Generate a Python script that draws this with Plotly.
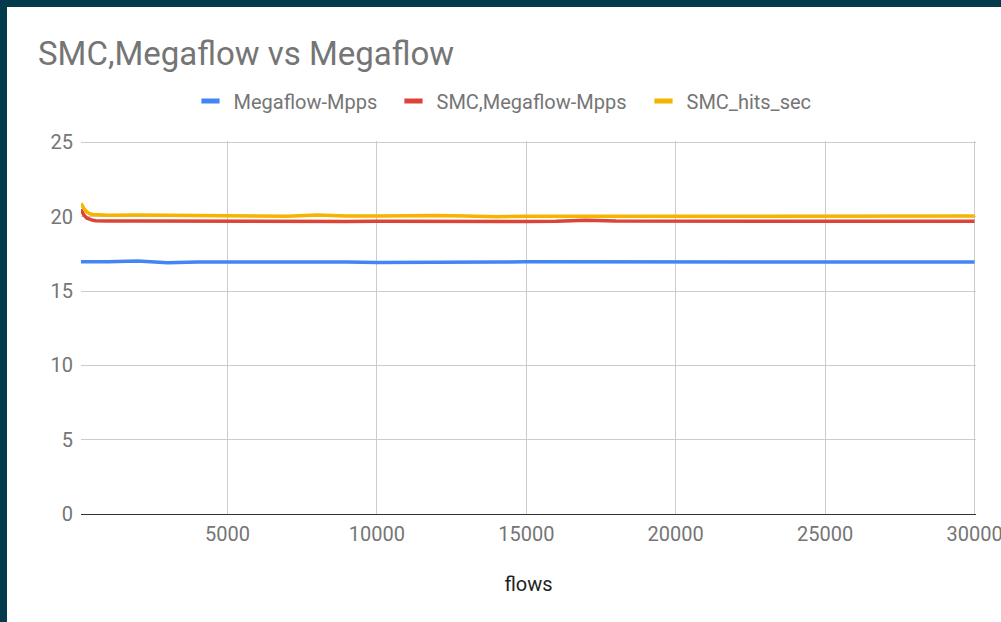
import plotly.graph_objects as go

flows = [100, 200, 300, 400, 500, 600, 700, 800, 900, 1000,
         2000, 3000, 4000, 5000, 6000, 7000, 8000, 9000, 10000,
         11000, 12000, 13000, 14000, 15000, 16000, 17000, 18000, 19000, 20000,
         21000, 22000, 23000, 24000, 25000, 26000, 27000, 28000, 29000, 30000]

megaflow_mpps = [16.97, 16.97, 16.96, 16.97, 16.97, 16.96, 16.96, 16.97, 16.98, 16.98,
                 17.03, 16.9, 16.95, 16.96, 16.96, 16.96, 16.96, 16.95, 16.93,
                 16.95, 16.96, 16.96, 16.96, 16.97, 16.96, 16.95, 16.95, 16.95, 16.95,
                 16.95, 16.95, 16.95, 16.95, 16.95, 16.95, 16.95, 16.95, 16.95, 16.95]

smc_megaflow_mpps = [20.5, 20.1, 19.9, 19.8, 19.76, 19.74, 19.73, 19.72, 19.72, 19.72,
                     19.71, 19.7, 19.7, 19.69, 19.69, 19.69, 19.69, 19.69, 19.7,
                     19.69, 19.69, 19.69, 19.69, 19.69, 19.7, 19.77, 19.71, 19.7, 19.7,
                     19.7, 19.7, 19.7, 19.7, 19.7, 19.7, 19.7, 19.7, 19.7, 19.7]

smc_hits_sec = [20.9, 20.55, 20.32, 20.2, 20.16, 20.14, 20.13, 20.12, 20.11, 20.1,
                20.12, 20.1, 20.05, 20.02, 20.05, 20.03, 20.12, 20.05, 20.05,
                20.08, 20.08, 20.05, 20.0, 20.03, 20.03, 20.08, 20.05, 20.06, 20.05,
                20.05, 20.05, 20.05, 20.05, 20.05, 20.05, 20.05, 20.05, 20.05, 20.05]

series_names = ["Megaflow-Mpps", "SMC,Megaflow-Mpps", "SMC_hits_sec"]
series_values = [megaflow_mpps, smc_megaflow_mpps, smc_hits_sec]
colors = ["#4285F4", "#DB4437", "#F4B400"]

x_ticks = [5000, 10000, 15000, 20000, 25000, 30000]
y_ticks = [0, 5, 10, 15, 20, 25]

FONT = "Roboto, Arial, sans-serif"
GREY = "#757575"

W, H = 1001, 622
L, R, T, B = 81, 25, 141, 108
pw = W - L - R
ph = H - T - B

def px_x(p):
    return (p - L) / pw

def px_y(p):
    return (H - B - p) / ph

legend_ids = ["legend", "legend2", "legend3"]
legend_left_px = [187.5, 390.5, 640.5]

fig = go.Figure()
for name, vals, c in zip(series_names, series_values, colors):
    fig.add_trace(go.Scatter(x=flows, y=vals, mode="lines", name=name,
                             line=dict(color=c, width=3.5), showlegend=False))
for name, c, lg in zip(series_names, colors, legend_ids):
    fig.add_trace(go.Scatter(x=[None], y=[None], mode="markers", name=name,
                             legend=lg,
                             marker=dict(symbol="line-ew", size=13,
                                         line=dict(color=c, width=5))))

fig.add_shape(type="rect", xref="paper", yref="paper", layer="below",
              x0=px_x(7), x1=px_x(W + 20), y0=px_y(H + 20), y1=px_y(7),
              fillcolor="white", line=dict(width=0))

legend_layout = {}
for lg, lx in zip(legend_ids, legend_left_px):
    legend_layout[lg] = dict(orientation="h", x=px_x(lx), xanchor="left", xref="paper",
                             y=px_y(101), yanchor="middle", yref="paper",
                             font=dict(family=FONT, size=20, color=GREY),
                             itemwidth=36, bgcolor="rgba(0,0,0,0)")

fig.update_layout(
    width=W, height=H,
    margin=dict(l=L, r=R, t=T, b=B, pad=0, autoexpand=False),
    paper_bgcolor="#033B4C",
    plot_bgcolor="white",
    font=dict(family=FONT, size=20, color=GREY),
    title=dict(text="SMC,Megaflow vs Megaflow", x=38 / W, xref="container",
               xanchor="left", y=1 - 53 / H, yref="container", yanchor="middle",
               font=dict(family=FONT, size=33, color=GREY)),
    xaxis=dict(range=[100, 30050], tickvals=x_ticks,
               ticktext=[str(v) for v in x_ticks], automargin=False,
               showgrid=True, gridcolor="#CCCCCC", gridwidth=1,
               zeroline=False, showline=True, linecolor="#333333", linewidth=1,
               ticks="", ticklabelstandoff=2, ticklabeloverflow="allow",
               title=dict(text="flows", standoff=31,
                          font=dict(family=FONT, size=20, color="#222222")),
               tickfont=dict(family=FONT, size=20, color=GREY)),
    yaxis=dict(range=[0, 25.1], tickvals=y_ticks, automargin=False,
               showgrid=True, gridcolor="#CCCCCC", gridwidth=1,
               zeroline=False, showline=False, ticks="", ticklabelstandoff=7,
               tickfont=dict(family=FONT, size=20, color=GREY)),
    **legend_layout,
)

fig.write_html("out.html", config={"displayModeBar": False, "responsive": False},
               post_script="document.body.style.margin='0';document.body.style.overflow='hidden';")
